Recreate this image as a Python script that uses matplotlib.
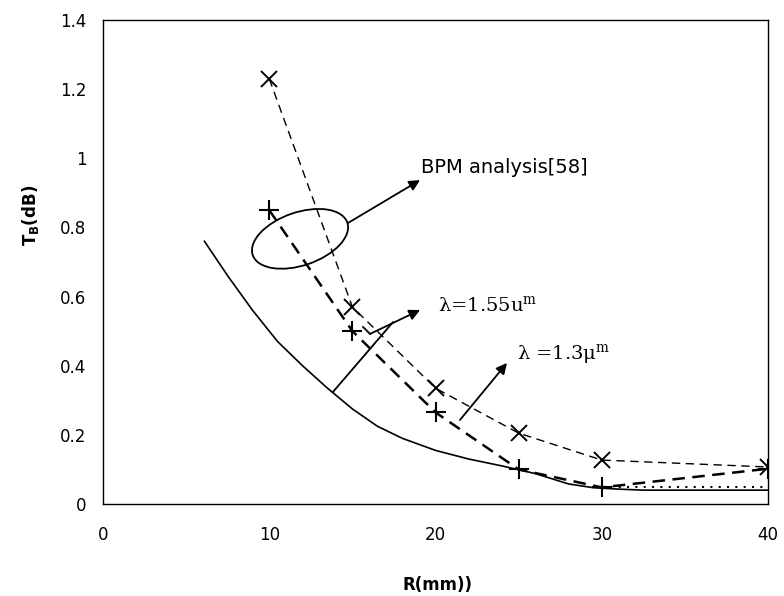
import numpy as np
import matplotlib
matplotlib.use("Agg")
import matplotlib.pyplot as plt
from matplotlib.patches import Ellipse
from matplotlib import transforms

plt.rcParams['font.family'] = ['DejaVu Sans']
plt.rcParams['mathtext.fontset'] = 'custom'
plt.rcParams['mathtext.rm'] = 'DejaVu Serif'
plt.rcParams['mathtext.bf'] = 'DejaVu Sans:bold'

# theory curve (solid)
r_theory = [6.1, 7.5, 9, 10.5, 12, 13.5, 15, 16.5, 18, 20, 22, 24, 26, 28, 29.5, 31, 32.5, 40]
t_theory = [0.76, 0.66, 0.56, 0.47, 0.40, 0.335, 0.275, 0.225, 0.19, 0.155, 0.13, 0.11, 0.088, 0.058, 0.047, 0.043, 0.04, 0.04]

# BPM analysis points
r_bpm = [10, 15, 20, 25, 30, 40]
t_155 = [1.23, 0.57, 0.335, 0.205, 0.127, 0.107]
t_13 = [0.85, 0.50, 0.265, 0.10, 0.048, 0.102]

# dotted tail
r_dot = [30, 40]
t_dot = [0.05, 0.05]

fig = plt.figure(figsize=(7.84, 5.96), dpi=100)
ax = fig.add_axes([0.1314, 0.1544, 0.8482, 0.812])

ax.plot(r_theory, t_theory, color='black', lw=1.2)
ax.plot(r_dot, t_dot, color='black', lw=1.5, ls=(0, (1, 3)))
ax.plot(r_bpm, t_155, color='black', lw=1.0, ls=(0, (6, 4)),
        marker='x', ms=12, mew=1.4)
ax.plot(r_bpm, t_13, color='black', lw=1.8, ls=(0, (5, 3)),
        marker='+', ms=14, mew=1.5)

ax.set_xlim(0, 40)
ax.set_ylim(0, 1.4)
ax.set_xticks([0, 10, 20, 30, 40])
ax.set_yticks([0, 0.2, 0.4, 0.6, 0.8, 1.0, 1.2, 1.4])
ax.set_yticklabels(['0', '0.2', '0.4', '0.6', '0.8', '1', '1.2', '1.4'])
ax.tick_params(axis='both', length=0, labelsize=12)
ax.tick_params(axis='x', pad=16)
ax.tick_params(axis='y', pad=12)
for s in ax.spines.values():
    s.set_linewidth(1.0)

ax.set_xlabel('R(mm))', fontsize=12, fontweight='bold')
ax.set_ylabel(r'T$_{\mathbf{B}}$(dB)', fontsize=12, fontweight='bold')
ax.xaxis.set_label_coords(0.503, -0.148)
ax.yaxis.set_label_coords(-0.094, 0.597)

# ellipse around BPM points
etrans = fig.dpi_scale_trans + transforms.ScaledTranslation(11.85, 0.767, ax.transData)
ax.add_patch(Ellipse((0, 0), 1.0, 0.53, angle=19, fill=False, lw=1.3,
                     color='black', transform=etrans, clip_on=False))

arrow = dict(arrowstyle='-|>', mutation_scale=16, lw=1.3, color='black',
             shrinkA=0, shrinkB=0)
ax.annotate('', xy=(19.07, 0.937), xytext=(14.74, 0.813), arrowprops=arrow)
ax.text(19.1, 0.972, 'BPM analysis[58]', fontsize=14, va='center', ha='left')

# lambda = 1.55 arrow
ax.plot([15.64, 16.06], [0.512, 0.492], color='black', lw=1.3)
ax.annotate('', xy=(19.07, 0.561), xytext=(16.06, 0.492), arrowprops=arrow)
ax.plot([13.83, 17.44], [0.324, 0.526], color='black', lw=1.3)
ax.text(20.15, 0.573, 'λ=1.55u$^{\\mathrm{m}}$', fontsize=14,
        family='DejaVu Serif', va='center', ha='left')

# lambda = 1.3 arrow
ax.annotate('', xy=(24.30, 0.408), xytext=(21.47, 0.243), arrowprops=arrow)
ax.text(24.9, 0.431, 'λ =1.3μ$^{\\mathrm{m}}$', fontsize=14,
        family='DejaVu Serif', va='center', ha='left')

fig.savefig('out.png', dpi=100)
